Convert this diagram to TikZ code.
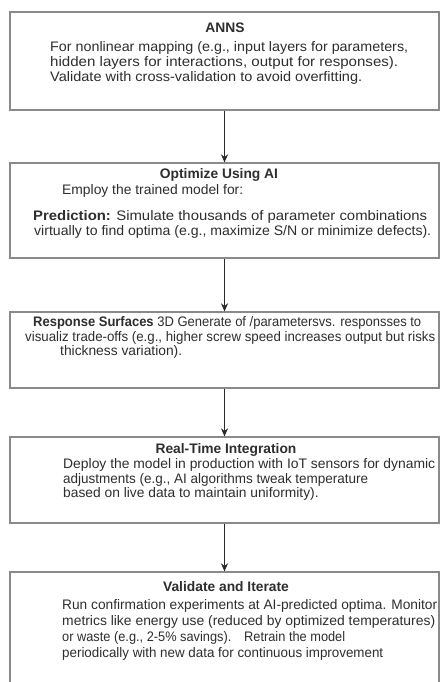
\documentclass[tikz,border=0pt]{standalone}
\usepackage{fontspec}
\usepackage{graphicx}
\setmainfont{Liberation Sans}
\usetikzlibrary{arrows.meta}
\definecolor{txt}{HTML}{2E2E2E}
\definecolor{frame}{HTML}{8A8A8A}
\definecolor{arr}{HTML}{2A2A2A}
\newcommand\fitw[2]{\resizebox{#1}{\height}{#2}}
\tikzset{
  box/.style={draw=frame, line width=1.3pt, fill=white, minimum width=429pt, inner sep=0pt},
  ln/.style={anchor=west, inner sep=0pt, text height=10pt, text depth=3pt, text=txt, font=\fontsize{13.8}{16}\selectfont},
  ttl/.style={anchor=center, inner sep=0pt, text height=10pt, text depth=3pt, text=txt, font=\fontsize{13.8}{16}\selectfont\bfseries},
  flow/.style={draw=arr, line width=1.9pt, -{Stealth[length=8pt,width=7pt]}}
}
\begin{document}
\begin{tikzpicture}[x=1pt,y=-1pt]
\useasboundingbox (0,0) rectangle (440,682);
\begin{scope}
\clip (0,0) rectangle (440,682);
% boxes
\node[box, minimum height=98pt] (b1) at (224.5,61) {};
\node[box, minimum height=95pt] (b2) at (224.5,210.5) {};
\node[box, minimum height=76pt] (b3) at (224.5,350) {};
\node[box, minimum height=86pt] (b4) at (224.5,480) {};
\node[box, minimum height=118pt] (b5) at (224.5,631) {};
% arrows
\draw[flow] (b1.south) -- (b2.north);
\draw[flow] (b2.south) -- (b3.north);
\draw[flow] (b3.south) -- (b4.north);
\draw[flow] (b4.south) -- (b5.north);
% box 1
\node[ttl] (t1) at (225,29) {ANNS};
\node[ln] (l11) at (50,48) {\fitw{358pt}{For nonlinear mapping (e.g., input layers for parameters,}};
\node[ln] (l12) at (50,63) {\fitw{348pt}{hidden layers for interactions, output for responses).}};
\node[ln] (l13) at (50,78) {\fitw{312pt}{Validate with cross-validation to avoid overfitting.}};
% box 2
\node[ttl] (t2) at (219,175) {Optimize Using AI};
\node[ln] (l21) at (62,191) {\fitw{181pt}{Employ the trained model for:}};
\node[ln] (l22) at (33,217) {\fitw{394pt}{\bfseries Prediction:\mdseries{} Simulate thousands of parameter combinations}};
\node[ln] (l23) at (34,232) {\fitw{397pt}{virtually to find optima (e.g., maximize S/N or minimize defects).}};
% box 3
\node[ln] (l31) at (33,323) {\fitw{388pt}{\bfseries Response Surfaces\mdseries{} 3D Generate of /parametersvs. responsses to}};
\node[ln] (l32) at (25,338) {\fitw{410pt}{visualiz trade-offs (e.g., higher screw speed increases output but risks}};
\node[ln] (l33) at (60,352) {thickness variation).};
% box 4
\node[ttl] (t4) at (226,450) {Real-Time Integration};
\node[ln] (l41) at (63,465) {\fitw{372pt}{Deploy the model in production with IoT sensors for dynamic}};
\node[ln] (l42) at (63,480) {\fitw{305pt}{adjustments (e.g., AI algorithms tweak temperature}};
\node[ln] (l43) at (63,494) {based on live data to maintain uniformity).};
% box 5
\node[ttl] (t5) at (226,588) {Validate and Iterate};
\node[ln] (l51) at (62,606) {\fitw{375pt}{Run confirmation experiments at AI-predicted optima. Monitor}};
\node[ln] (l52) at (62,622) {\fitw{373pt}{metrics like energy use (reduced by optimized temperatures)}};
\node[ln] (l53) at (62,638) {\fitw{283pt}{or waste (e.g., 2-5\% savings).\quad Retrain the model}};
\node[ln] (l54) at (62,654) {\fitw{321pt}{periodically with new data for continuous improvement}};
\end{scope}
\end{tikzpicture}
\end{document}
